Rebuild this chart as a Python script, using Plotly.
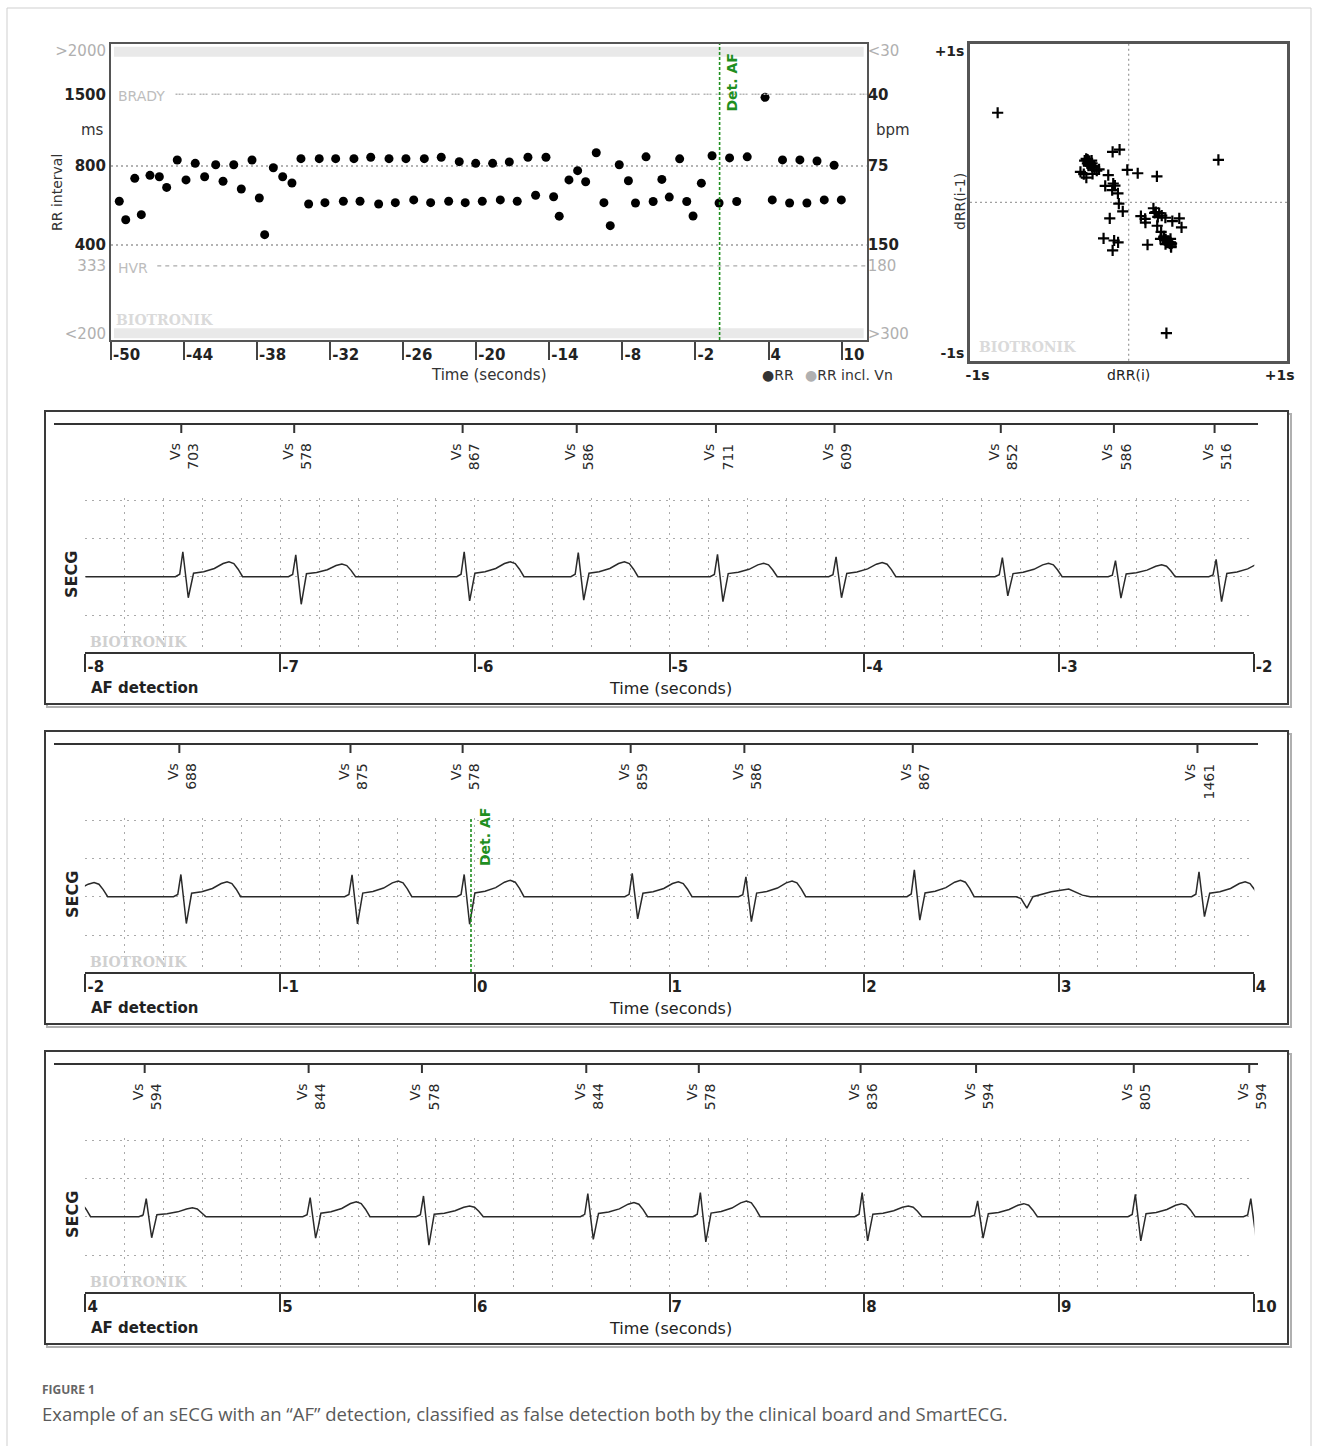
import numpy as np
import plotly.graph_objects as go

W, H = 1319, 1446

# ---------------- DATA ----------------
# RR interval trend before the first ECG strip (time s, RR ms)
early_time_s = [-49.32, -48.79, -48.05, -47.51, -46.80, -46.03, -45.43, -44.56, -43.84, -43.08,
                -42.31, -41.40, -40.80, -39.92, -39.30, -38.42, -37.82, -37.38, -36.67, -35.90,
                -35.14, -34.40, -33.77, -32.90, -32.43, -31.55, -30.92, -30.05, -29.55, -28.67,
                -28.02, -27.17, -26.65, -25.78, -25.14, -24.27, -23.75, -22.88, -22.27, -21.40,
                -20.91, -20.05, -19.51, -18.66, -18.03, -17.29, -16.64, -15.76, -15.13, -14.28,
                -13.65, -13.19, -12.39, -11.68, -11.02, -10.15, -9.52, -9.00, -8.26]
early_rr_ms = [587, 499, 718, 522, 737, 728, 663, 843, 708, 819,
               728, 809, 700, 809, 654, 843, 604, 438, 788, 728,
               689, 853, 573, 853, 580, 853, 587, 853, 587, 864,
               573, 853, 580, 853, 594, 853, 580, 864, 587, 831,
               580, 819, 587, 819, 594, 829, 587, 864, 619, 864,
               611, 515, 708, 768, 697, 899, 580, 474, 809]

# beats annotated in the ECG strips (marker time s, RR label ms)
beat_time_s = [-7.508, -6.928, -6.063, -5.477, -4.762, -4.153, -3.299, -2.718, -2.201,
               -1.518, -0.639, -0.063, 0.800, 1.384, 2.249, 3.711,
               4.304, 5.146, 5.728, 6.572, 7.150, 7.981, 8.574, 9.384, 9.977]
beat_rr_ms = [703, 578, 867, 586, 711, 609, 852, 586, 516,
              688, 875, 578, 859, 586, 867, 1461,
              594, 844, 578, 844, 578, 836, 594, 805, 594]
# per-beat amplitudes read from the strips (grid rows = 1 unit)
beat_r_amp = [0.65, 0.57, 0.65, 0.63, 0.58, 0.52, 0.50, 0.42, 0.45,
              0.58, 0.57, 0.58, 0.61, 0.52, 0.70, 0.65,
              0.47, 0.50, 0.54, 0.60, 0.63, 0.63, 0.41, 0.58, 0.47]
beat_s_amp = [-0.55, -0.72, -0.63, -0.61, -0.65, -0.55, -0.50, -0.56, -0.65,
              -0.70, -0.71, -0.72, -0.58, -0.65, -0.61, -0.52,
              -0.55, -0.56, -0.74, -0.59, -0.66, -0.63, -0.56, -0.63, -0.60]
beat_t_amp = [0.39, 0.33, 0.39, 0.39, 0.35, 0.37, 0.35, 0.31, 0.37,
              0.39, 0.41, 0.43, 0.39, 0.41, 0.43, 0.39,
              0.23, 0.39, 0.28, 0.37, 0.41, 0.28, 0.34, 0.34, 0.30]
# shape of one complex (s from marker; share of R, S and T amplitude)
tmpl_dt = [-0.030, -0.008, 0.008, 0.036, 0.050, 0.063, 0.115, 0.170, 0.215, 0.245, 0.270, 0.292, 0.315]
tmpl_r = [0, 0.10, 1, 0, 0, 0, 0, 0, 0, 0, 0, 0, 0]
tmpl_s = [0, 0, 0, 1, 0.45, 0, 0, 0, 0, 0, 0, 0, 0]
tmpl_t = [0, 0, 0, 0, 0, 0.23, 0.33, 0.55, 0.88, 1, 0.88, 0.5, 0]
# baseline start and the small extra deflection in strip 2
extra_time_s = [-8.0, 2.78, 2.805, 2.835, 2.866, 2.96, 3.05, 3.12, 3.16]
extra_amp = [0.0, 0.0, -0.05, -0.30, 0.0, 0.13, 0.20, 0.04, 0.0]

strip_ranges = [(-8, -2), (-2, 4), (4, 10)]
strip_ticks = [[-8, -7, -6, -5, -4, -3, -2], [-2, -1, 0, 1, 2, 3, 4], [4, 5, 6, 7, 8, 9, 10]]
rr_x_ticks = [-50, -44, -38, -32, -26, -20, -14, -8, -2, 4, 10]
rr_y_ticks = [184, 333, 400, 800, 1500, 2204]
rr_y_text_ms = ['&lt;200', '333', '400', '800', '1500', '&gt;2000']
rr_y_text_bpm = ['&gt;300', '180', '150', '75', '40', '&lt;30']
rr_y_gray = [True, True, False, False, False, True]
det_af_time_s = -0.02
brady_ms, brady_start_s = 1500, -44.7
hvr_ms, hvr_start_s = 333, -46.2
grid_ms = [800, 400]

# ---------------- helpers ----------------
FONT = "DejaVu Sans"
DARK = "#333333"
LGRAY = "#b0b0b0"
GREEN = "#1f8f1f"


def px(x):
    return x / W


def py(y):
    return 1 - y / H


def tt(s, gray):
    return f'<span style="color:{LGRAY};font-weight:normal">{s}</span>' if gray else s


ann = []
shapes = []


def text(x, y, s, size=14, color=DARK, xanchor='center', yanchor='middle', angle=0,
         family=FONT, xref='paper', yref='paper', **kw):
    d = dict(x=x, y=y, xref=xref, yref=yref, text=s, showarrow=False, xanchor=xanchor,
             yanchor=yanchor, textangle=angle, font=dict(family=family, size=size, color=color))
    d.update(kw)
    ann.append(d)


fig = go.Figure()

# ---------------- RR trend panel ----------------
rr_t = early_time_s + beat_time_s
rr_v = early_rr_ms + beat_rr_ms
x_end = 12.06
gx, gy = [], []
for g in grid_ms:
    gx += [-50, x_end, None]
    gy += [g, g, None]
fig.add_trace(go.Scatter(x=gx, y=gy, mode='lines', xaxis='x', yaxis='y', hoverinfo='skip',
                         line=dict(color='#9a9a9a', width=1.5, dash='2px,3px')))
fig.add_trace(go.Scatter(x=[hvr_start_s, x_end], y=[hvr_ms, hvr_ms], mode='lines', xaxis='x', yaxis='y',
                         line=dict(color='#ababab', width=1.3, dash='4px,4px'), hoverinfo='skip'))
fig.add_trace(go.Scatter(x=[brady_start_s, x_end], y=[brady_ms, brady_ms], mode='lines', xaxis='x', yaxis='y2',
                         line=dict(color='#b5b5b5', width=1.5, dash='2px,1px,2px,1px,2px,4px'), hoverinfo='skip'))
fig.add_trace(go.Scatter(x=rr_t, y=rr_v, mode='markers', xaxis='x', yaxis='y', name='RR',
                         marker=dict(color='black', size=9)))

shapes.append(dict(type='rect', xref='x domain', yref='y domain', x0=0.004, x1=0.996, y0=0.957, y1=0.991,
                   fillcolor='#e9e9e9', line=dict(width=0), layer='below'))
shapes.append(dict(type='rect', xref='x domain', yref='y domain', x0=0.004, x1=0.996, y0=0.006, y1=0.040,
                   fillcolor='#e9e9e9', line=dict(width=0), layer='below'))
shapes.append(dict(type='line', xref='x', yref='y domain', x0=det_af_time_s, x1=det_af_time_s, y0=0, y1=1,
                   line=dict(color=GREEN, width=1.6, dash='3px,2px')))
text(det_af_time_s, py(52), '<b>Det. AF</b>', size=14, color=GREEN, xref='x', angle=-90,
     xanchor='left', yanchor='top', xshift=2)
text(px(116), py(96), 'BRADY', size=14, color='#bdbdbd', xanchor='left')
text(px(116), py(268), 'HVR', size=14, color='#bdbdbd', xanchor='left')
text(px(114), py(320), '<b>BIOTRONIK</b>', size=14, color='#dadada', xanchor='left', family='DejaVu Serif')
text(px(106), py(130), 'ms', size=15, xanchor='right')
text(px(874), py(130), 'bpm', size=15, xanchor='left')
text(px(57), py(193), 'RR interval', size=14, angle=-90)
text(px(489), py(375), 'Time (seconds)', size=15)
text(px(760), py(375), '●RR', size=14, xanchor='left')
text(px(803), py(375), f'<span style="color:{LGRAY}">●</span>RR incl. Vn', size=14, xanchor='left')

# ---------------- Poincare-type scatter ----------------
rr_s = np.array(rr_v) / 1000.0
d_rr = np.diff(rr_s)
fig.add_trace(go.Scatter(x=d_rr[1:], y=d_rr[:-1], mode='markers', xaxis='x2', yaxis='y3',
                         marker=dict(symbol='cross-thin', size=8, line=dict(color='black', width=2.2))))
shapes.append(dict(type='line', xref='x2', yref='y3 domain', x0=0, x1=0, y0=0, y1=1,
                   line=dict(color='#a0a0a0', width=1.3, dash='2px,3px'), layer='below'))
shapes.append(dict(type='line', xref='x2 domain', yref='y3', x0=0, x1=1, y0=0, y1=0,
                   line=dict(color='#a0a0a0', width=1.3, dash='2px,3px'), layer='below'))
text(px(960), py(202), 'dRR(i-1)', size=14, angle=-90)
text(px(977), py(347), '<b>BIOTRONIK</b>', size=14, color='#dadada', xanchor='left', family='DejaVu Serif')

# ---------------- ECG strips ----------------
ecg_t, ecg_v = list(extra_time_s), list(extra_amp)
for bt, ra, sa, ta in zip(beat_time_s, beat_r_amp, beat_s_amp, beat_t_amp):
    for dt, a, b, c in zip(tmpl_dt, tmpl_r, tmpl_s, tmpl_t):
        ecg_t.append(bt + dt)
        ecg_v.append(ra * a + sa * b + ta * c)
order = np.argsort(ecg_t)
ecg_t = np.array(ecg_t)[order]
ecg_v = np.array(ecg_v)[order]

TICKFONT = dict(family=FONT, size=15, color='#222', weight='bold')
axes = {}
grid_kw = dict(gridcolor='#aaaaaa', griddash='2px,5px', gridwidth=1.3)
for k, (t0, t1) in enumerate(strip_ranges):
    dy = 320 * k
    xn, yn = f'x{k + 3}', f'y{k + 4}'
    axes[f'xaxis{k + 3}'] = dict(
        domain=[px(84.9), px(1254.3)], range=[t0 - 0.003, t1 + 0.003], anchor=yn, automargin=False,
        tickmode='array', tickvals=strip_ticks[k], ticktext=[str(v) for v in strip_ticks[k]],
        ticks='outside', ticklen=18, tickwidth=2, tickcolor='#333',
        showline=True, linecolor='#333', linewidth=2, zeroline=False,
        showgrid=True, **grid_kw,
        minor=dict(dtick=0.2, tick0=0, showgrid=True, ticks='', **grid_kw),
        ticklabelposition='outside right', ticklabelstandoff=0,
        tickfont=TICKFONT)
    axes[f'yaxis{k + 4}'] = dict(
        domain=[py(652 + dy), py(498 + dy)], range=[-1.965, 2.053], anchor=xn, automargin=False,
        tickmode='array', tickvals=[-1, 0, 1, 2], showticklabels=False, ticks='',
        showgrid=True, **grid_kw, zeroline=False, showline=False)
    fig.add_trace(go.Scatter(x=ecg_t, y=ecg_v, mode='lines', xaxis=xn, yaxis=yn, hoverinfo='skip',
                             line=dict(color='#2a2a2a', width=1.5)))
    # frame with shadow
    shapes.append(dict(type='rect', xref='paper', yref='paper', x0=px(47), x1=px(1291), y0=py(707 + dy),
                       y1=py(414 + dy), line=dict(color='#b0b0b0', width=2), layer='below'))
    shapes.append(dict(type='rect', xref='paper', yref='paper', x0=px(45), x1=px(1288), y0=py(704 + dy),
                       y1=py(411 + dy), line=dict(color='#3a3a3a', width=2), fillcolor='white', layer='below'))
    shapes.append(dict(type='line', xref='paper', yref='paper', x0=px(54), x1=px(1258), y0=py(424 + dy),
                       y1=py(424 + dy), line=dict(color='#333', width=2)))
    for bt, rr in zip(beat_time_s, beat_rr_ms):
        if t0 <= bt <= t1 and not (k > 0 and bt < t0 + 0.01):
            shapes.append(dict(type='line', xref=xn, yref='paper', x0=bt, x1=bt, y0=py(424 + dy),
                               y1=py(433 + dy), line=dict(color='#333', width=2)))
            text(bt, py(441 + dy), f'Vs<br>{rr}', size=14, xref=xn, angle=-90, xanchor='center',
                 yanchor='top', align='right', xshift=2, color='#2a2a2a')
    text(px(72), py(575 + dy), '<b>SECG</b>', size=16, color='#222', angle=-90)
    text(px(89), py(688 + dy), '<b>AF detection</b>', size=15, color='#222', xanchor='left')
    text(px(670), py(688 + dy), 'Time (seconds)', size=16, color='#222')
    text(px(88), py(642 + dy), '<b>BIOTRONIK</b>', size=14, color='#d0d0d0', xanchor='left',
         family='DejaVu Serif')

# AF detection marker in the second strip
shapes.append(dict(type='line', xref='x4', yref='y5 domain', x0=det_af_time_s, x1=det_af_time_s, y0=0, y1=1,
                   line=dict(color=GREEN, width=1.6, dash='3px,2px')))
text(det_af_time_s, py(806), '<b>Det. AF</b>', size=14, color=GREEN, xref='x4', angle=-90,
     xanchor='left', yanchor='top', xshift=4)

# caption and outer border
text(px(40), py(1389), '<b>FIGURE 1</b>', size=12, color='#666', xanchor='left', family='Open Sans')
text(px(40), py(1413),
     'Example of an sECG with an “AF” detection, classified as false detection both by the clinical board and SmartECG.',
     size=18.5, color='#5a5a5a', xanchor='left', family='Open Sans')
shapes.append(dict(type='rect', xref='paper', yref='paper', x0=px(7), x1=px(1311), y0=-0.01, y1=py(8),
                   line=dict(color='#cfcfcf', width=1), layer='below'))

fig.update_layout(
    width=W, height=H, margin=dict(l=0, r=0, t=0, b=0, autoexpand=False),
    paper_bgcolor='white', plot_bgcolor='rgba(0,0,0,0)', showlegend=False,
    font=dict(family=FONT, size=14, color=DARK),
    xaxis=dict(domain=[px(111), px(866.7)], range=[-50, x_end], anchor='y', automargin=False,
               tickmode='array', tickvals=rr_x_ticks, ticktext=[str(v) for v in rr_x_ticks],
               ticks='outside', ticklen=18, tickwidth=2, tickcolor='#444',
               showline=True, mirror=True, linecolor='#555', linewidth=2, showgrid=False, zeroline=False,
               ticklabelposition='outside right', ticklabelstandoff=0,
               tickfont=TICKFONT),
    yaxis=dict(domain=[py(340), py(44)], type='log', range=[2.240, 3.368], anchor='x', automargin=False,
               tickmode='array', tickvals=rr_y_ticks,
               ticktext=[tt(s, g) for s, g in zip(rr_y_text_ms, rr_y_gray)], ticks='',
               showline=True, mirror=True, linecolor='#555', linewidth=2, showgrid=False, zeroline=False,
               tickfont=TICKFONT),
    yaxis2=dict(overlaying='y', side='right', anchor='x', type='log', range=[2.240, 3.368], automargin=False,
                tickmode='array', tickvals=rr_y_ticks,
                ticktext=[tt(s, g) for s, g in zip(rr_y_text_bpm, rr_y_gray)], ticks='',
                showline=False, showgrid=False, zeroline=False,
                tickfont=TICKFONT),
    xaxis2=dict(domain=[px(970), px(1287.3)], range=[-1.05, 1.05], anchor='y3', automargin=False,
                tickmode='array', tickvals=[-1, 0, 1], ticktext=['<b>-1s</b>', 'dRR(i)', '<b>+1s</b>'], ticks='',
                showline=True, mirror=True, linecolor='#555', linewidth=2.5, showgrid=False, zeroline=False,
                tickfont=dict(family=FONT, size=14, color='#222')),
    yaxis3=dict(domain=[py(360.7), py(44)], range=[-1.05, 1.05], anchor='x2', automargin=False,
                tickmode='array', tickvals=[-1, 1], ticktext=['-1s', '+1s'], ticks='',
                showline=True, mirror=True, linecolor='#555', linewidth=2.5, showgrid=False, zeroline=False,
                tickfont=dict(family=FONT, size=14, color='#222', weight='bold')),
    **axes,
    annotations=ann, shapes=shapes,
)

fig.write_html("out.html", config={'displayModeBar': False},
               post_script="document.documentElement.style.overflow='hidden';"
                           "document.body.style.margin='0px';document.body.style.overflow='hidden';")
